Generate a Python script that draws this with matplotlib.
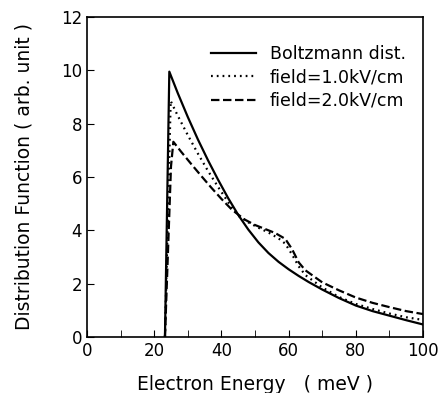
import matplotlib
matplotlib.use("Agg")
import matplotlib.pyplot as plt
from matplotlib.ticker import MultipleLocator

# Boltzmann distribution
e_boltz = [23.2, 24.5, 27, 30, 33, 36, 39, 42, 45, 48, 51, 54, 57, 60, 63, 66, 70, 75, 80, 85, 90, 95, 100]
f_boltz = [0.0, 9.95, 9.15, 8.25, 7.41, 6.63, 5.9, 5.21, 4.58, 4.03, 3.55, 3.15, 2.82, 2.54, 2.29, 2.06, 1.78, 1.46, 1.18, 0.97, 0.8, 0.63, 0.47]

# field = 1.0 kV/cm
e_f1 = [23.2, 24.9, 27, 30, 33, 36, 39, 42, 45, 48, 51, 54, 57, 59, 61, 63, 65, 70, 75, 80, 85, 90, 95, 100]
f_f1 = [0.0, 8.85, 8.3, 7.57, 6.88, 6.23, 5.63, 5.06, 4.55, 4.3, 4.1, 3.92, 3.7, 3.5, 3.1, 2.65, 2.32, 1.86, 1.5, 1.24, 1.05, 0.88, 0.74, 0.64]

# field = 2.0 kV/cm
e_f2 = [23.2, 25.0, 25.7, 28, 31, 34, 37, 40, 43, 45, 47, 50, 53, 56, 59, 61, 63, 65, 70, 75, 80, 85, 90, 95, 100]
f_f2 = [0.0, 6.4, 7.32, 6.95, 6.49, 6.04, 5.6, 5.18, 4.79, 4.59, 4.4, 4.2, 4.05, 3.9, 3.68, 3.3, 2.8, 2.5, 2.05, 1.75, 1.48, 1.28, 1.12, 0.97, 0.86]

labels = ["Boltzmann dist.", "field=1.0kV/cm", "field=2.0kV/cm"]

plt.rcParams['font.family'] = ['DejaVu Sans']
fig = plt.figure(figsize=(4.4, 3.93), dpi=100)
ax = fig.add_axes([87/440, 1 - 337/393, (423-87)/440, (337-17)/393])

ax.plot(e_boltz, f_boltz, color='black', lw=1.6, ls='-', label=labels[0])
ax.plot(e_f1, f_f1, color='black', lw=1.6, ls=(0, (0.8, 1.8)), label=labels[1])
ax.plot(e_f2, f_f2, color='black', lw=1.6, ls=(0, (3.8, 1.6)), label=labels[2])

ax.set_xlim(0, 100)
ax.set_ylim(0, 12)
ax.xaxis.set_major_locator(MultipleLocator(20))
ax.xaxis.set_minor_locator(MultipleLocator(10))
ax.yaxis.set_major_locator(MultipleLocator(2))
ax.tick_params(axis='both', which='both', direction='in', top=False, right=False, labelsize=12)
ax.tick_params(which='major', length=5)
ax.tick_params(which='minor', length=5)
for s in ax.spines.values():
    s.set_linewidth(1.2)

ax.set_xlabel("Electron Energy   ( meV )", fontsize=13.5, labelpad=11)
ax.set_ylabel("Distribution Function ( arb. unit )", fontsize=13.5, labelpad=20)

ax.legend(loc='upper right', bbox_to_anchor=(1.0, 1.0 - 11/320), frameon=False,
          fontsize=12.5, handlelength=2.6, handletextpad=0.8,
          borderaxespad=0.6, labelspacing=0.3)

fig.savefig("out.png", dpi=100)
